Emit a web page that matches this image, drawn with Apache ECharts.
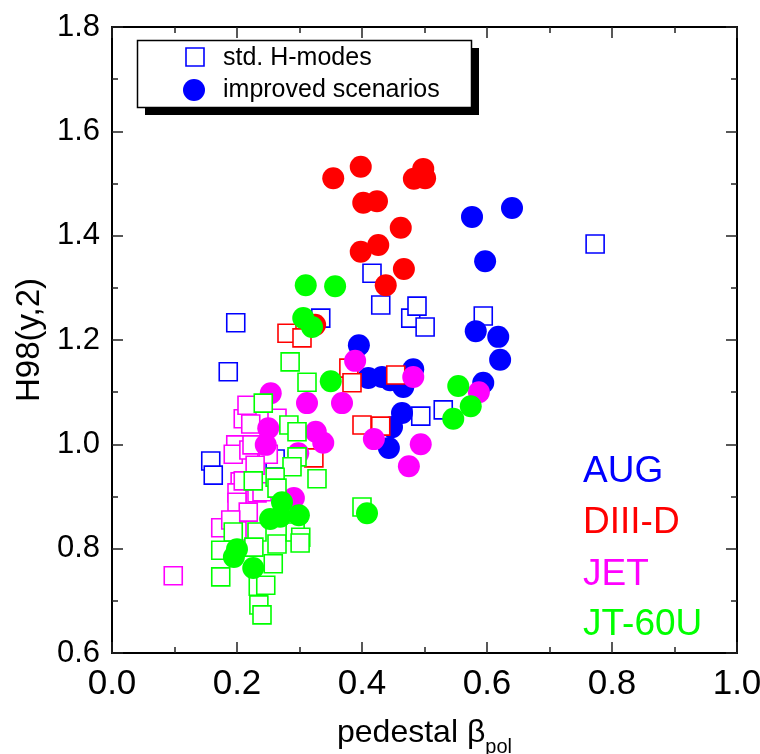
<!DOCTYPE html>
<html>
<head>
<meta charset="utf-8">
<script src="https://cdn.jsdelivr.net/npm/echarts@6/dist/echarts.min.js"></script>
<style>
  html, body { margin: 0; padding: 0; background: #fff; }
  #chart { width: 760px; height: 754px; }
</style>
</head>
<body>
<div id="chart"></div>
<script>
// Confinement factor H98(y,2) versus pedestal poloidal beta, per device.
// [pedestal beta_pol, H98(y,2)]

const augStd = [
  [0.198, 1.233], [0.186, 1.139], [0.158, 0.968], [0.162, 0.941], [0.261, 0.972],
  [0.334, 1.242], [0.416, 1.328], [0.430, 1.267], [0.478, 1.242], [0.488, 1.265],
  [0.501, 1.225], [0.594, 1.246], [0.494, 1.054], [0.530, 1.066], [0.773, 1.384]
];
const augImp = [
  [0.576, 1.436], [0.640, 1.453], [0.597, 1.351], [0.582, 1.217], [0.618, 1.206],
  [0.621, 1.162], [0.594, 1.118], [0.395, 1.190], [0.410, 1.127], [0.432, 1.129],
  [0.445, 1.123], [0.466, 1.110], [0.482, 1.144], [0.464, 1.060], [0.448, 1.033],
  [0.443, 0.993]
];
const d3dStd = [
  [0.280, 1.213], [0.304, 1.204], [0.379, 1.146], [0.384, 1.118], [0.454, 1.133],
  [0.400, 1.037], [0.430, 1.035], [0.323, 0.974]
];
const d3dImp = [
  [0.354, 1.510], [0.398, 1.532], [0.402, 1.463], [0.424, 1.466], [0.483, 1.509],
  [0.498, 1.528], [0.501, 1.510], [0.462, 1.415], [0.398, 1.369], [0.426, 1.382],
  [0.467, 1.336], [0.438, 1.305], [0.325, 1.229]
];
const jetStd = [
  [0.098, 0.748], [0.174, 0.840], [0.210, 1.049], [0.222, 1.039], [0.216, 1.075],
  [0.264, 1.050], [0.198, 0.999], [0.194, 0.981], [0.219, 0.989], [0.250, 0.981],
  [0.224, 0.999], [0.229, 0.960], [0.205, 0.928], [0.200, 0.907], [0.232, 0.907],
  [0.200, 0.889], [0.218, 0.870], [0.210, 0.930], [0.240, 0.909], [0.200, 0.834],
  [0.190, 0.855]
];
const jetImp = [
  [0.254, 1.098], [0.312, 1.079], [0.368, 1.079], [0.389, 1.160], [0.482, 1.129],
  [0.250, 1.031], [0.246, 0.999], [0.326, 1.024], [0.338, 1.003], [0.298, 0.983],
  [0.419, 1.010], [0.494, 1.000], [0.475, 0.958], [0.587, 1.100], [0.291, 0.897]
];
const jtStd = [
  [0.285, 1.158], [0.312, 1.119], [0.242, 1.079], [0.283, 1.037], [0.296, 1.024],
  [0.296, 0.976], [0.288, 0.957], [0.328, 0.934], [0.226, 0.930], [0.261, 0.937],
  [0.264, 0.916], [0.400, 0.880], [0.194, 0.832], [0.232, 0.832], [0.264, 0.809],
  [0.293, 0.832], [0.302, 0.822], [0.301, 0.811], [0.227, 0.803], [0.174, 0.797],
  [0.258, 0.771], [0.174, 0.746], [0.234, 0.728], [0.246, 0.730], [0.235, 0.692],
  [0.240, 0.673]
];
const jtImp = [
  [0.310, 1.305], [0.357, 1.303], [0.306, 1.242], [0.320, 1.225], [0.350, 1.121],
  [0.554, 1.112], [0.574, 1.073], [0.546, 1.049], [0.408, 0.868], [0.272, 0.889],
  [0.253, 0.857], [0.269, 0.861], [0.299, 0.864], [0.200, 0.799], [0.195, 0.784],
  [0.226, 0.763]
];

const devices = ['AUG', 'DIII-D', 'JET', 'JT-60U'];
const deviceColors = ['#0000ff', '#ff0000', '#ff00ff', '#00ff00'];
const stdSets = [augStd, d3dStd, jetStd, jtStd];
const impSets = [augImp, d3dImp, jetImp, jtImp];
const legendLabels = ['std. H-modes', 'improved scenarios'];

const FONT = '"Liberation Sans", Arial, Helvetica, sans-serif';

const chart = echarts.init(document.getElementById('chart'), null, { renderer: 'canvas' });

// open squares then filled circles, device by device
const series = [];
devices.forEach((dev, i) => {
  series.push({
    name: dev + ' std',
    type: 'scatter',
    symbol: 'rect',
    symbolSize: 18,
    data: stdSets[i],
    itemStyle: { color: '#ffffff', borderColor: deviceColors[i], borderWidth: 1.6, opacity: 1 },
    emphasis: { disabled: true },
    z: 2 + i * 2
  });
  series.push({
    name: dev + ' improved',
    type: 'scatter',
    symbol: 'circle',
    symbolSize: 22,
    data: impSets[i],
    itemStyle: { color: deviceColors[i], opacity: 1 },
    emphasis: { disabled: true },
    z: 3 + i * 2
  });
});

const tickStyle = { color: '#222', width: 1.5 };
function xAxisBase(pos, showLabel) {
  return {
    type: 'value', position: pos, min: 0, max: 1, interval: 0.2,
    axisLine: { show: true, onZero: false, lineStyle: { color: '#000', width: 2 } },
    axisTick: { show: true, inside: true, length: 11, lineStyle: tickStyle },
    minorTick: { show: true, splitNumber: 2, length: 6, lineStyle: tickStyle },
    splitLine: { show: false },
    axisLabel: {
      show: showLabel, margin: 14, fontSize: 35, color: '#000', fontFamily: FONT,
      formatter: v => v.toFixed(1)
    }
  };
}
function yAxisBase(pos, showLabel) {
  return {
    type: 'value', position: pos, min: 0.6, max: 1.8, interval: 0.2,
    axisLine: { show: true, onZero: false, lineStyle: { color: '#000', width: 2 } },
    axisTick: { show: true, inside: true, length: 11, lineStyle: tickStyle },
    minorTick: { show: true, splitNumber: 2, length: 6, lineStyle: tickStyle },
    splitLine: { show: false },
    axisLabel: {
      show: showLabel, margin: 12, fontSize: 31, color: '#000', fontFamily: FONT,
      padding: [4, 0, 0, 0],
      formatter: v => v.toFixed(1)
    }
  };
}

const xBottom = Object.assign(xAxisBase('bottom', true), {
  name: '{a|pedestal β}{b|pol}',
  nameLocation: 'middle',
  nameGap: 56,
  nameTextStyle: {
    fontFamily: FONT, color: '#000',
    rich: {
      a: { fontSize: 32, lineHeight: 48, fontFamily: FONT, color: '#000' },
      b: { fontSize: 20, lineHeight: 20, verticalAlign: 'bottom', fontFamily: FONT, color: '#000' }
    }
  }
});
const yLeft = Object.assign(yAxisBase('left', true), {
  name: 'H98(y,2)',
  nameLocation: 'middle',
  nameRotate: 90,
  nameGap: 64,
  nameTextStyle: { fontSize: 33, fontFamily: FONT, color: '#000' }
});

// legend box with drop shadow, and device labels
const graphic = [
  { type: 'rect', shape: { x: 145, y: 48, width: 334, height: 67 }, style: { fill: '#000' }, z: 100 },
  { type: 'rect', shape: { x: 137.5, y: 40.5, width: 334, height: 67 },
    style: { fill: '#fff', stroke: '#000', lineWidth: 1.5 }, z: 101 },
  { type: 'rect', shape: { x: 186, y: 48, width: 18, height: 18 },
    style: { fill: '#fff', stroke: deviceColors[0], lineWidth: 1.6 }, z: 102 },
  { type: 'circle', shape: { cx: 194, cy: 90, r: 11 }, style: { fill: deviceColors[0] }, z: 102 },
  { type: 'text', x: 223, y: 58, style: { text: legendLabels[0], font: '25px ' + FONT, fill: '#000', textVerticalAlign: 'middle' }, z: 102 },
  { type: 'text', x: 223, y: 90, style: { text: legendLabels[1], font: '25px ' + FONT, fill: '#000', textVerticalAlign: 'middle' }, z: 102 }
];
const labelY = [472, 523, 575, 625];
devices.forEach((dev, i) => {
  graphic.push({
    type: 'text', x: 583, y: labelY[i],
    style: { text: dev, font: '37px ' + FONT, fill: deviceColors[i], textVerticalAlign: 'middle' },
    z: 50
  });
});

chart.setOption({
  animation: false,
  backgroundColor: '#fff',
  grid: { left: 112, right: 23, top: 27, bottom: 101, containLabel: false, outerBoundsMode: 'none' },
  xAxis: [xBottom, xAxisBase('top', false)],
  yAxis: [yLeft, yAxisBase('right', false)],
  series: series,
  graphic: graphic
});
</script>
</body>
</html>
